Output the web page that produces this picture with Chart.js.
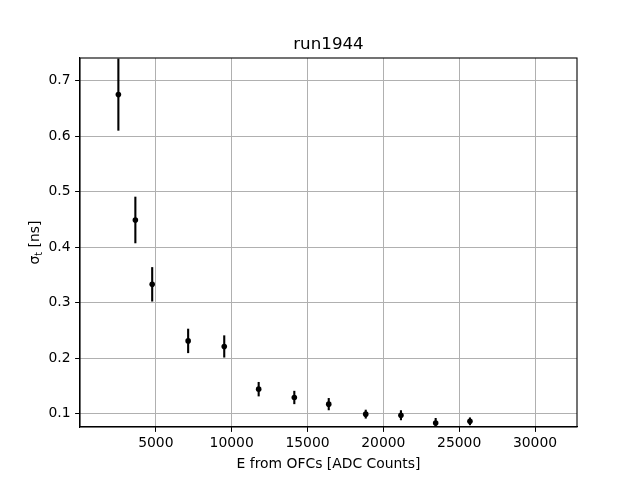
<!DOCTYPE html>
<html>
<head>
<meta charset="utf-8">
<script src="https://cdn.jsdelivr.net/npm/chart.js@4"></script>
<style>
html,body{margin:0;padding:0;background:#fff;}
#wrap{width:640px;height:480px;}
</style>
</head>
<body>
<div id="wrap"><canvas id="c" width="640" height="480"></canvas></div>
<script>
const energies = [2530, 3650, 4760, 7130, 9510, 11780, 14130, 16400, 18840, 21160, 23450, 25710];
const sigmas   = [0.675, 0.449, 0.333, 0.231, 0.221, 0.144, 0.129, 0.117, 0.099, 0.097, 0.083, 0.086];
const errors   = [0.065, 0.042, 0.031, 0.022, 0.020, 0.013, 0.012, 0.011, 0.008, 0.009, 0.009, 0.007];
const xTicks = [5000, 10000, 15000, 20000, 25000, 30000];
const yTicks = [0.1, 0.2, 0.3, 0.4, 0.5, 0.6, 0.7];
const titleText = "run1944";
const xLabel = "E from OFCs [ADC Counts]";

const FONT = "DejaVu Sans";

const errorBarPlugin = {
  id: 'errbars',
  beforeDatasetsDraw(chart) {
    const {ctx, chartArea, scales} = chart;
    ctx.save();
    ctx.beginPath();
    ctx.rect(chartArea.left, chartArea.top, chartArea.right - chartArea.left, chartArea.bottom - chartArea.top);
    ctx.clip();
    ctx.strokeStyle = '#000';
    ctx.lineWidth = 2.1;
    for (let i = 0; i < energies.length; i++) {
      const x = scales.x.getPixelForValue(energies[i]);
      const y1 = scales.y.getPixelForValue(sigmas[i] + errors[i]);
      const y2 = scales.y.getPixelForValue(sigmas[i] - errors[i]);
      ctx.beginPath();
      ctx.moveTo(x, y1);
      ctx.lineTo(x, y2);
      ctx.stroke();
    }
    ctx.restore();
  },
  afterDraw(chart) {
    const {ctx, chartArea} = chart;
    const cx = (chartArea.left + chartArea.right) / 2;
    ctx.save();
    ctx.fillStyle = '#000';
    ctx.textAlign = 'center';
    ctx.textBaseline = 'alphabetic';
    ctx.font = `16.7px "${FONT}"`;
    ctx.fillText(titleText, cx, 49);
    ctx.font = `13.9px "${FONT}"`;
    ctx.fillText(xLabel, cx, 468);
    // y label with subscript
    const cy = (chartArea.top + chartArea.bottom) / 2;
    ctx.translate(39, cy);
    ctx.rotate(-Math.PI / 2);
    ctx.textAlign = 'left';
    const s1 = "σ";
    const s3 = " [ns]";
    ctx.font = `9.7px "${FONT}"`;
    const wt = ctx.measureText("t").width;
    ctx.font = `13.9px "${FONT}"`;
    const w1 = ctx.measureText(s1).width;
    const w3 = ctx.measureText(s3).width;
    const total = w1 + wt + w3;
    let px = -total / 2;
    ctx.fillText(s1, px, 0);
    px += w1;
    ctx.font = `9.7px "${FONT}"`;
    ctx.fillText("t", px, 3);
    px += wt;
    ctx.font = `13.9px "${FONT}"`;
    ctx.fillText(s3, px, 0);
    ctx.restore();
  }
};

new Chart(document.getElementById('c'), {
  type: 'scatter',
  data: {
    datasets: [{
      data: energies.map((e, i) => ({x: e, y: sigmas[i]})),
      backgroundColor: '#000',
      borderColor: '#000',
      pointRadius: 2.8,
      pointHoverRadius: 2.8,
      borderWidth: 0
    }]
  },
  options: {
    responsive: false,
    animation: false,
    events: [],
    layout: {padding: {top: 58, right: 63, left: 0, bottom: 0}},
    plugins: {legend: {display: false}, title: {display: false}, tooltip: {enabled: false}},
    scales: {
      x: {
        type: 'linear',
        min: 0, max: 32768,
        afterBuildTicks(s) { s.ticks = xTicks.map(v => ({value: v})); },
        afterFit(s) { s.height = 53; },
        ticks: {
          color: '#000', padding: 3.5, maxRotation: 0, autoSkip: false,
          font: {family: FONT, size: 13.9},
          callback: v => String(v)
        },
        grid: {color: '#b0b0b0', lineWidth: 1, tickColor: '#000', tickLength: 4.9, drawTicks: true},
        border: {color: '#000', width: 1.1}
      },
      y: {
        type: 'linear',
        min: 0.0758, max: 0.741,
        afterBuildTicks(s) { s.ticks = yTicks.map(v => ({value: v})); },
        afterFit(s) { s.width = 80; },
        ticks: {
          color: '#000', padding: 4.5, autoSkip: false,
          font: {family: FONT, size: 13.9},
          callback: v => v.toFixed(1)
        },
        grid: {color: '#b0b0b0', lineWidth: 1, tickColor: '#000', tickLength: 4.9, drawTicks: true},
        border: {color: '#000', width: 1.1}
      }
    }
  },
  plugins: [errorBarPlugin, {
    id: 'frame',
    afterDraw(chart) {
      const {ctx, chartArea: a} = chart;
      ctx.save();
      ctx.strokeStyle = '#000';
      ctx.lineWidth = 1.1;
      ctx.strokeRect(a.left, a.top, a.right - a.left, a.bottom - a.top);
      ctx.restore();
    }
  }]
});
</script>
</body>
</html>
